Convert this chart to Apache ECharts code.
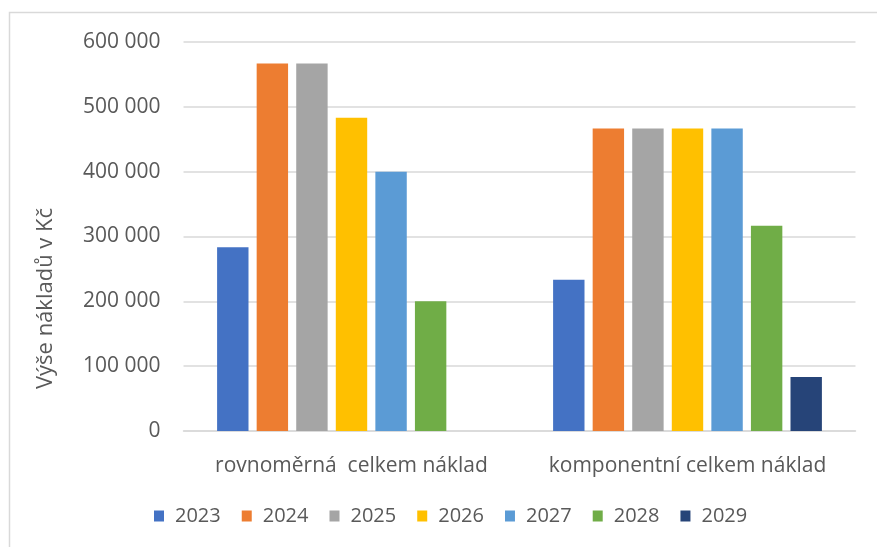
<!DOCTYPE html>
<html>
<head>
<meta charset="utf-8">
<script src="https://cdn.jsdelivr.net/npm/echarts@6/dist/echarts.min.js"></script>
<style>
html,body{margin:0;padding:0;background:#fff;}
#chart{width:877px;height:547px;}
</style>
</head>
<body>
<div id="chart"></div>
<script>
const categories = ['rovnoměrná  celkem náklad', 'komponentní celkem náklad'];
const years = ['2023', '2024', '2025', '2026', '2027', '2028', '2029'];
const v2023 = [283333, 233333];
const v2024 = [566667, 466667];
const v2025 = [566667, 466667];
const v2026 = [483333, 466667];
const v2027 = [400000, 466667];
const v2028 = [200000, 316667];
const v2029 = [0, 83333];
const seriesValues = [v2023, v2024, v2025, v2026, v2027, v2028, v2029];
const colors = ['#4472C4', '#ED7D31', '#A5A5A5', '#FFC000', '#5B9BD5', '#70AD47', '#264478'];
const yTitle = 'Výše nákladů v Kč';

const FONT = '"Open Sans", sans-serif';
const TXT = '#595959';

const chart = echarts.init(document.getElementById('chart'), null, {renderer: 'canvas'});
chart.setOption({
  animation: false,
  color: colors,
  textStyle: {fontFamily: FONT},
  grid: {left: 183.5, right: 21.5, top: 42, bottom: 116},
  graphic: [
    {type: 'rect', shape: {x: 9.5, y: 12.5, width: 1000, height: 1000},
     style: {fill: 'none', stroke: '#d9d9d9', lineWidth: 1.5}, silent: true},
    {type: 'text', x: 46, y: 298.5, rotation: Math.PI / 2,
     style: {text: yTitle, fill: TXT, font: '22px ' + FONT, align: 'center', verticalAlign: 'middle',
             textAlign: 'center', textVerticalAlign: 'middle'}}
  ],
  legend: {
    data: years, left: 149, top: 501, itemWidth: 10, itemHeight: 11, itemGap: 21,
    icon: 'rect',
    textStyle: {color: TXT, fontSize: 20, fontFamily: FONT, padding: [0, 0, 0, 6]}
  },
  xAxis: {
    type: 'category', data: categories,
    axisLine: {lineStyle: {color: '#d9d9d9', width: 1.5}},
    axisTick: {show: false},
    axisLabel: {color: TXT, fontSize: 21, fontFamily: FONT, margin: 25, interval: 0}
  },
  yAxis: {
    type: 'value', min: 0, max: 600000, interval: 100000,
    axisLine: {show: false}, axisTick: {show: false},
    splitLine: {lineStyle: {color: '#d9d9d9', width: 1.5}},
    axisLabel: {color: TXT, fontSize: 21, fontFamily: FONT, margin: 23,
      formatter: v => String(v).replace(/\B(?=(\d{3})+(?!\d))/g, ' ')}
  },
  series: years.map((y, i) => ({
    name: y, type: 'bar', data: seriesValues[i],
    barGap: '26%', barCategoryGap: '20%'
  }))
});
</script>
</body>
</html>
